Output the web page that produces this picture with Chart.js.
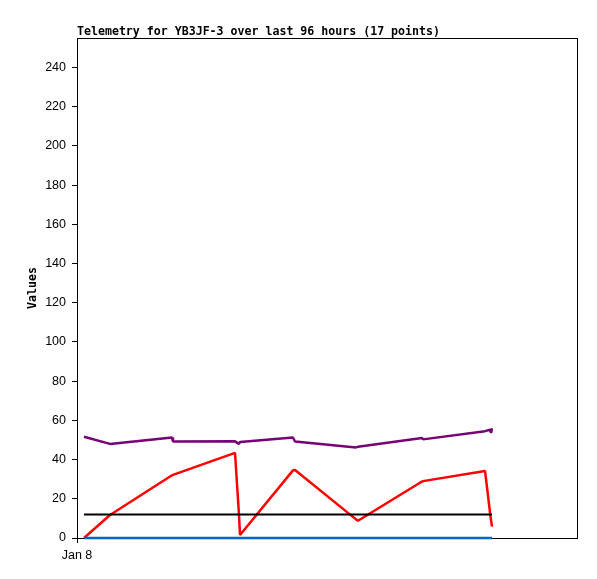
<!DOCTYPE html>
<html>
<head>
<meta charset="utf-8">
<script src="https://cdn.jsdelivr.net/npm/chart.js@4/dist/chart.umd.min.js"></script>
<style>
  html, body { margin: 0; padding: 0; background: #fff; }
  canvas { display: block; }
</style>
</head>
<body>
<canvas id="telemetryChart" width="597" height="579"></canvas>
<script>
// hours since the first sample of the window (x scale runs 0..96 h)
const hours = [1.34, 6.34, 18.24, 18.43, 30.34, 31.1, 31.3, 41.47, 41.86,
               53.57, 53.95, 66.24, 66.43, 78.34, 79.3, 79.5, 79.68];
const purpleValues = [51.6, 48, 51.2, 49.2, 49.3, 48, 49, 51.2, 49.2,
                      46.2, 46.5, 51, 50.3, 54.5, 55.2, 53.6, 56];
const redValues = [0, 11.7, 32, 32.2, 43.4, 12, 1.5, 34.5, 34.7,
                   9.5, 8.8, 28.8, 29, 34.2, 13, 9, 5.8];
const blackValues = [12, 12, 12, 12, 12, 12, 12, 12, 12,
                     12, 12, 12, 12, 12, 12, 12, 12];
const blueValues = [0, 0, 0, 0, 0, 0, 0, 0, 0,
                    0, 0, 0, 0, 0, 0, 0, 0];
const xTickLabels = ["Jan 8"];
const titleText = "Telemetry for YB3JF-3 over last 96 hours (17 points)";

function toPoints(values) {
    return values.map((v, i) => ({ x: hours[i], y: v }));
}

// plot frame + left aligned title
const framePlugin = {
    id: "frame",
    beforeDatasetsDraw(chart) {
        let ctx = chart.ctx;
        let a = chart.chartArea;
        ctx.save();
        ctx.strokeStyle = "#000";
        ctx.lineWidth = 1;
        ctx.strokeRect(a.left + 0.5, a.top + 0.5, a.right - a.left, a.bottom - a.top);
        ctx.fillStyle = "#000";
        ctx.font = "bold 11.6px 'DejaVu Sans Mono', monospace";
        ctx.textBaseline = "alphabetic";
        ctx.textAlign = "left";
        ctx.fillText(titleText, a.left, 35);
        ctx.restore();
    }
};

let ctx = document.getElementById("telemetryChart").getContext("2d");
let line = (data, color, width) => ({
    data: toPoints(data),
    borderColor: color,
    backgroundColor: color,
    borderWidth: width,
    borderJoinStyle: "bevel",
    pointRadius: 0,
    tension: 0,
    fill: false,
    clip: false
});

new Chart(ctx, {
    type: "line",
    data: {
        datasets: [
            line(blackValues, "#000000", 2),
            line(blueValues, "#0066cc", 2.5),
            line(redValues, "#ff0000", 2.5),
            line(purpleValues, "#770077", 2.5)
        ]
    },
    options: {
        responsive: false,
        animation: false,
        devicePixelRatio: 1,
        layout: { padding: { top: 38, right: 20, left: 0, bottom: 0 } },
        plugins: { legend: { display: false }, tooltip: { enabled: false }, title: { display: false } },
        scales: {
            x: {
                type: "linear",
                min: 0,
                max: 96,
                afterFit: s => { s.height = 41; },
                afterBuildTicks: s => { s.ticks = [{ value: 0 }]; },
                border: { display: true, color: "#000", width: 1 },
                grid: { display: true, drawOnChartArea: false, drawTicks: true, tickLength: 5, color: "#000" },
                ticks: {
                    color: "#000",
                    font: { family: "'Liberation Sans', Arial, sans-serif", size: 12.5 },
                    padding: 5,
                    maxRotation: 0,
                    callback: (v, i) => xTickLabels[i]
                }
            },
            y: {
                min: 0,
                max: 255,
                afterFit: s => { s.width = 77; },
                border: { display: true, color: "#000", width: 1 },
                grid: { display: true, drawOnChartArea: false, drawTicks: true, tickLength: 5, color: "#000" },
                ticks: {
                    stepSize: 20,
                    includeBounds: false,
                    color: "#000",
                    padding: 6,
                    font: { family: "'Liberation Sans', Arial, sans-serif", size: 12.5 }
                },
                title: {
                    display: true,
                    text: "Values",
                    color: "#000",
                    padding: { top: 26, bottom: 0 },
                    font: { family: "'DejaVu Sans Mono', monospace", size: 11.6, weight: "bold" }
                }
            }
        }
    },
    plugins: [framePlugin]
});
</script>
</body>
</html>
